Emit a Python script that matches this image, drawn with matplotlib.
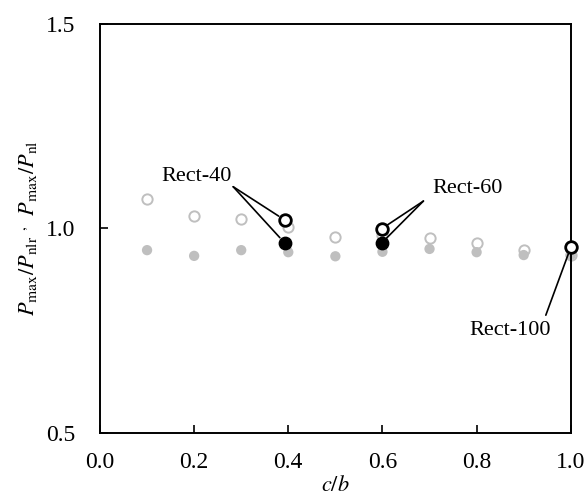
import matplotlib
matplotlib.use('Agg')
from matplotlib import pyplot as plt

plt.rcParams['font.family'] = ['Liberation Serif', 'DejaVu Serif']
plt.rcParams['mathtext.fontset'] = 'stix'

# c/b positions for the parametric series
cb = [0.1, 0.2, 0.3, 0.4, 0.5, 0.6, 0.7, 0.8, 0.9, 1.0]
# gray open circles (Pmax/Pnlr)
ratio_nlr = [1.072, 1.031, 1.023, 1.003, 0.980, 0.985, 0.976, 0.964, 0.948, 0.936]
# gray filled circles (Pmax/Pnl)
ratio_nl = [0.947, 0.933, 0.947, 0.942, 0.932, 0.943, 0.950, 0.942, 0.935, 0.935]

# test specimens
spec_names = ['Rect-40', 'Rect-60', 'Rect-100']
spec_cb = [0.392, 0.598, 1.0]
spec_nlr = [1.021, 0.999, 0.954]
spec_nl = [0.965, 0.964, None]

fig = plt.figure(figsize=(5.86, 4.99), dpi=100)
ax = fig.add_axes([0.1706, 0.1323, 0.8034, 0.8197])

gray = '#bfbfbf'
ax.scatter(cb, ratio_nlr, s=55, facecolors='white', edgecolors=gray, linewidths=1.4, zorder=2, clip_on=False)
ax.scatter(cb, ratio_nl, s=55, color=gray, edgecolors='none', zorder=2, clip_on=False)

nl_x = [x for x, v in zip(spec_cb, spec_nl) if v is not None]
nl_y = [v for v in spec_nl if v is not None]
ax.scatter(spec_cb, spec_nlr, s=70, facecolors='white', edgecolors='black', linewidths=2.0, zorder=4, clip_on=False)
ax.scatter(nl_x, nl_y, s=80, color='black', edgecolors='black', zorder=4, clip_on=False)

# annotation leaders
def leader(tx, ty, targets):
    for (px, py) in targets:
        ax.annotate('', xy=(px, py), xytext=(tx, ty),
                    arrowprops=dict(arrowstyle='-', color='black', lw=1.2,
                                    shrinkA=0, shrinkB=5), zorder=3)

leader(0.283, 1.102, [(spec_cb[0], spec_nlr[0]), (spec_cb[0], spec_nl[0])])
ax.text(0.206, 1.128, spec_names[0], fontsize=16, ha='center', va='center')
leader(0.687, 1.067, [(spec_cb[1], spec_nlr[1]), (spec_cb[1], spec_nl[1])])
ax.text(0.78, 1.097, spec_names[1], fontsize=16, ha='center', va='center')
leader(0.947, 0.788, [(spec_cb[2], spec_nlr[2])])
ax.text(0.872, 0.75, spec_names[2], fontsize=16, ha='center', va='center')

ax.set_xlim(0.0, 1.0)
ax.set_ylim(0.5, 1.5)
ax.set_xticks([0.0, 0.2, 0.4, 0.6, 0.8, 1.0])
ax.set_yticks([0.5, 1.0, 1.5])
ax.xaxis.set_major_formatter(matplotlib.ticker.FormatStrFormatter('%.1f'))
ax.yaxis.set_major_formatter(matplotlib.ticker.FormatStrFormatter('%.1f'))
ax.tick_params(direction='in', length=6, width=1.2, labelsize=17)
ax.tick_params(axis='x', pad=14)
ax.tick_params(axis='y', pad=18)
for sp in ax.spines.values():
    sp.set_linewidth(1.4)

ax.set_xlabel('$c/b$', fontsize=16, labelpad=2)
ax.set_ylabel(r'$P_{\mathrm{max}}/P_{\mathrm{nlr}}\ ^{,}\ \ P_{\mathrm{max}}/P_{\mathrm{nl}}$', fontsize=16, labelpad=5)

fig.savefig('out.png', dpi=100)
